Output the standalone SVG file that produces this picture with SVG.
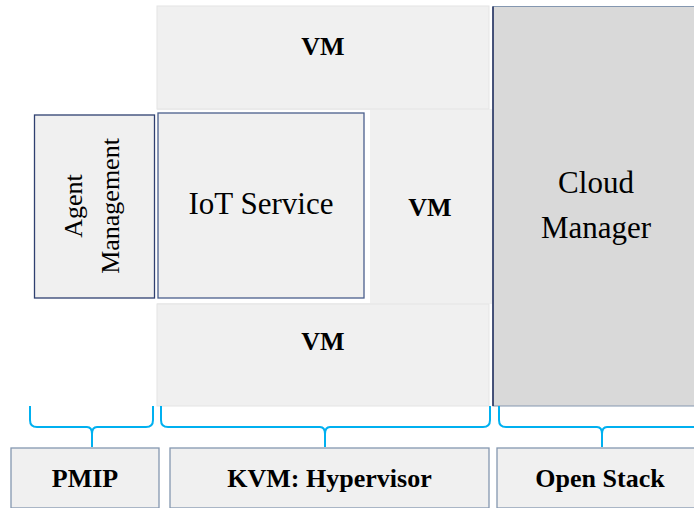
<svg xmlns="http://www.w3.org/2000/svg" width="694" height="508" viewBox="0 0 694 508">
  <style>
    .vm { fill: #f0f0f0; stroke: #e4e4e4; stroke-width: 1; }
    .box { fill: #f0f0f0; stroke: #4a5f8c; stroke-width: 1.3; }
    .base { fill: #f0f0f0; stroke: #8497b0; stroke-width: 1.3; }
    .lbl { font-family: "Liberation Serif", "Times New Roman", serif; fill: #000; text-anchor: middle; }
    .b { font-weight: bold; font-size: 26px; }
    .big { font-size: 31px; }
    .mid { font-size: 26px; }
    .brace { fill: none; stroke: #00b0f0; stroke-width: 2; stroke-linejoin: round; }
  </style>

  <!-- Virtual machine layer -->
  <g id="vm-middle">
    <rect x="157" y="109" width="335" height="195" fill="#f0f0f0"/>
    <text class="lbl b" x="430" y="216">VM</text>
  </g>
  <g id="vm-top">
    <rect class="vm" x="157" y="6" width="332" height="103"/>
    <text class="lbl b" x="323" y="55">VM</text>
  </g>
  <g id="vm-bottom">
    <rect class="vm" x="157" y="304" width="332" height="102"/>
    <text class="lbl b" x="323" y="350">VM</text>
  </g>

  <g id="iot-service">
    <rect x="155" y="110" width="215" height="193" fill="#ffffff"/>
    <rect class="box" x="158" y="113" width="206" height="185"/>
    <text class="lbl big" x="261" y="214">IoT Service</text>
  </g>

  <g id="agent-management">
    <rect x="34.5" y="115" width="120" height="183" fill="#f0f0f0" stroke="#2f4070" stroke-width="1.3"/>
    <text class="lbl mid" transform="translate(82,206) rotate(-90)">Agent</text>
    <text class="lbl mid" transform="translate(119,206) rotate(-90)">Management</text>
  </g>

  <g id="cloud-manager">
    <rect x="493" y="6.5" width="210" height="399.5" fill="#d9d9d9" stroke="#8497b0" stroke-width="1"/>
    <line x1="493" y1="6.5" x2="493" y2="406" stroke="#1f2d5c" stroke-width="1.5"/>
    <text class="lbl big" x="596" y="193">Cloud</text>
    <text class="lbl big" x="596" y="238">Manager</text>
  </g>

  <!-- Platform labels -->
  <g id="pmip">
    <rect class="base" x="11" y="448" width="148" height="60"/>
    <text class="lbl b" x="85" y="487">PMIP</text>
  </g>
  <g id="kvm">
    <rect class="base" x="170" y="448" width="319" height="60"/>
    <text class="lbl b" x="329.5" y="487">KVM: Hypervisor</text>
  </g>
  <g id="open-stack">
    <rect class="base" x="497" y="448" width="210" height="60"/>
    <text class="lbl b" x="600" y="487">Open Stack</text>
  </g>

  <!-- Grouping braces -->
  <g id="connectors">
    <path class="brace" d="M30,406 L30,420 Q30,427 37,427 L87,427 Q92,427 92,434 L92,447 M92,434 Q92,427 97,427 L146,427 Q153,427 153,420 L153,406"/>
    <path class="brace" d="M161,406 L161,420 Q161,427 168,427 L320,427 Q325,427 325,434 L325,447 M325,434 Q325,427 330,427 L483,427 Q490,427 490,420 L490,406"/>
    <path class="brace" d="M499,406 L499,420 Q499,427 506,427 L597,427 Q602,427 602,434 L602,447 M602,434 Q602,427 607,427 L700,427"/>
  </g>
</svg>
